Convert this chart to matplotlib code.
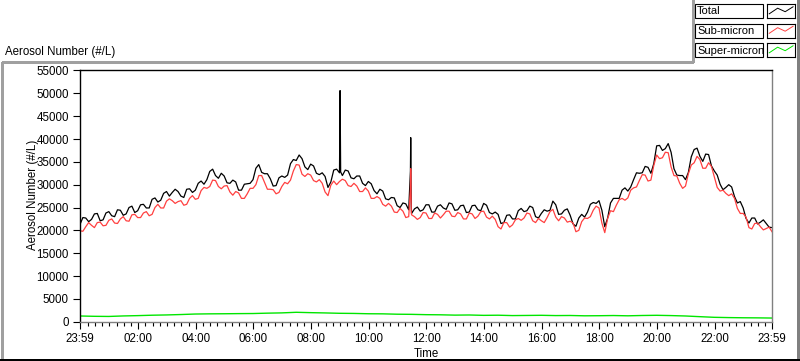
import numpy as np
import matplotlib
matplotlib.use("Agg")
import matplotlib.pyplot as plt
from matplotlib.lines import Line2D
from matplotlib.patches import Rectangle

# hours after 23:59, total / sub-micron read every 0.1 h
step_hours = 0.1
total = [21300, 22800, 22700, 21900, 22400, 23600, 23700, 22100, 22300, 23800,
         24100, 23200, 23000, 24500, 24400, 23300, 23600, 25000, 25300, 23900,
         24300, 25600, 25700, 24900, 24900, 26800, 27100, 26200, 26600, 28100,
         28500, 27500, 28300, 29000, 28500, 27500, 27200, 29000, 29100, 28300,
         28800, 30300, 30800, 30100, 31100, 32900, 33400, 32000, 31400, 32500,
         31900, 30400, 30300, 31000, 30600, 28800, 28800, 30100, 30200, 30300,
         31100, 33600, 34400, 32700, 32400, 32400, 31300, 29700, 29800, 31500,
         31900, 31600, 32100, 34600, 35500, 35300, 36500, 35700, 33900, 33300,
         34500, 34100, 32500, 32200, 32600, 31800, 29400, 30600, 33200, 33400,
         32600, 32000, 33200, 33000, 31500, 31300, 31900, 31900, 30300, 29800,
         30700, 30200, 28700, 28000, 29000, 28600, 26900, 26700, 27200, 27100,
         25400, 25000, 26000, 25800, 24500, 23700, 24700, 25100, 24200, 24500,
         25600, 25600, 24000, 24000, 25300, 25600, 24900, 24600, 26000, 25800,
         24400, 24500, 25400, 25500, 23900, 24000, 25400, 25500, 24500, 24300,
         25900, 25500, 23900, 23600, 24000, 23500, 21500, 21700, 23300, 23400,
         22500, 22500, 24300, 24800, 24100, 24300, 25300, 25000, 23000, 22700,
         23700, 24500, 24200, 24400, 26400, 25600, 23500, 23600, 24400, 24700,
         23300, 21400, 20900, 22700, 23500, 22900, 24000, 25700, 26100, 25900,
         26500, 24400, 20800, 22700, 26000, 27000, 27000, 27000, 28800, 29300,
         28600, 29500, 31100, 32600, 32500, 32600, 34000, 33800, 32500, 34600,
         38500, 38600, 37500, 37900, 39000, 37100, 33500, 32100, 32000, 32000,
         31100, 32700, 36100, 37700, 38000, 36200, 35100, 36700, 36600, 34100,
         33000, 32100, 30100, 28900, 29400, 30000, 29500, 27400, 26000, 26300,
         24900, 22600, 21600, 22700, 22700, 21400, 21800, 22300, 21500, 20700,
         20600]
sub_micron = [19900, 19800, 20800, 21700, 21100, 20600, 21700, 21800, 21000, 21100,
              22200, 22500, 21600, 21500, 22500, 23000, 22100, 22000, 23400, 23500,
              22800, 22800, 23800, 24100, 23200, 23500, 25000, 25700, 24900, 24900,
              26400, 26900, 26500, 25900, 26300, 26500, 25500, 25700, 27000, 27600,
              26800, 27000, 28700, 29400, 29200, 29600, 31000, 30900, 29600, 29100,
              29700, 29800, 28400, 27700, 28500, 28200, 27000, 27000, 28000, 29200,
              29200, 30000, 32000, 32000, 30500, 29000, 29000, 28900, 28000, 28300,
              29600, 30500, 30200, 31000, 33000, 34400, 34300, 32300, 31800, 32400,
              32100, 30900, 30600, 31100, 30300, 28400, 27600, 29900, 30800, 30000,
              30700, 31200, 30900, 29800, 29600, 30300, 29700, 28500, 28500, 29300,
              28600, 27000, 27000, 27400, 27000, 25700, 25300, 25900, 25300, 24000,
              23900, 24800, 24200, 22800, 23000, 23400, 23000, 22400, 22800, 23900,
              23800, 22600, 22600, 23800, 23500, 22700, 23400, 24200, 24200, 23100,
              23000, 23900, 23600, 22500, 22500, 23800, 23600, 22600, 23100, 24100,
              24200, 22900, 22500, 23100, 22400, 20800, 20300, 21700, 21700, 20700,
              21200, 22300, 22600, 22200, 22700, 23800, 23600, 22100, 21700, 22600,
              22100, 21700, 22800, 24100, 24600, 22900, 22100, 23000, 22700, 21800,
              22000, 21600, 19700, 20000, 21900, 22700, 22600, 23000, 24400, 25300,
              24900, 21600, 19500, 22600, 24300, 24100, 25500, 26700, 27000, 26600,
              27100, 28800, 29300, 29500, 30900, 32200, 32100, 30800, 31000, 34200,
              36500, 35700, 35900, 37100, 37000, 33900, 32000, 31900, 30300, 29200,
              29700, 32400, 34300, 34800, 36200, 35500, 33600, 33600, 34800, 34000,
              31700, 29400, 28600, 28800, 28100, 27600, 28000, 27000, 24800, 23700,
              23700, 22900, 20600, 20300, 21500, 21600, 20800, 20100, 20400, 20700,
              19700]

# super-micron read every 0.5 h
super_step_hours = 0.5
super_micron = [1250, 1180, 1150, 1260, 1330, 1420, 1480, 1570, 1680, 1720,
                1740, 1770, 1790, 1870, 1930, 2060, 1980, 1920, 1840, 1810,
                1740, 1720, 1640, 1610, 1540, 1510, 1440, 1470, 1390, 1420,
                1340, 1370, 1400, 1340, 1360, 1290, 1310, 1350, 1290, 1360,
                1400, 1340, 1250, 1100, 960, 900, 860, 840, 800]

# short bursts between grid points
total_spike_hours = [9.01, 9.02, 9.04, 11.46, 11.47, 11.49]
total_spike_values = [40500, 50600, 32800, 33000, 40300, 25200]
sub_spike_hours = [11.46, 11.47, 11.49]
sub_spike_values = [29000, 33500, 23800]

series_names = ["Total", "Sub-micron", "Super-micron"]
series_colors = ["#000000", "#ff4040", "#00e600"]
time_labels = ["23:59", "02:00", "04:00", "06:00", "08:00", "10:00", "12:00",
               "14:00", "16:00", "18:00", "20:00", "22:00", "23:59"]
y_ticks = [0, 5000, 10000, 15000, 20000, 25000, 30000, 35000, 40000, 45000,
           50000, 55000]

W, H = 800, 361
FONT = "Liberation Sans"


def px(x, y):
    return x / W, 1 - y / H


def with_spikes(values, step, spike_hours, spike_values):
    hours = np.arange(len(values)) * step
    h = np.concatenate([hours, spike_hours])
    v = np.concatenate([values, spike_values])
    order = np.argsort(h)
    return h[order], v[order]


def fig_line(fig, xs, ys, color, lw=1.0):
    pts = [px(x, y) for x, y in zip(xs, ys)]
    fig.add_artist(Line2D([p[0] for p in pts], [p[1] for p in pts],
                          transform=fig.transFigure, color=color, lw=lw,
                          antialiased=False))


def draw_legend(fig):
    rows = [4, 23.5, 43]
    zig_x = [0.08, 0.38, 0.65, 0.93]
    zig_y = [0.3, 0.7, 0.45, 0.8]
    for name, color, top in zip(series_names, series_colors, rows):
        x0, y0 = px(695, top + 14)
        fig.add_artist(Rectangle((x0, y0), 68 / W, 14 / H, transform=fig.transFigure,
                                 facecolor="white", edgecolor="black", lw=0.8))
        fig.text(697 / W, 1 - (top + 7.5) / H, name, fontsize=8.0, family=FONT,
                 va="center", ha="left")
        sx, sy = px(767, top + 14)
        sax = fig.add_axes([sx, sy, 28 / W, 14 / H])
        sax.set_xlim(0, 1)
        sax.set_ylim(0, 1)
        sax.set_xticks([])
        sax.set_yticks([])
        for s in sax.spines.values():
            s.set_linewidth(0.8)
        sax.plot(zig_x, zig_y, color=color, lw=0.7)


def main():
    fig = plt.figure(figsize=(W / 100, H / 100), dpi=100)
    fig.patch.set_facecolor("white")

    left, bottom = px(80, 321.7)
    right, top = px(772, 70.5)
    ax = fig.add_axes([left, bottom, right - left, top - bottom])

    th, tv = with_spikes(total, step_hours, total_spike_hours, total_spike_values)
    sh, sv = with_spikes(sub_micron, step_hours, sub_spike_hours, sub_spike_values)
    gh = np.arange(len(super_micron)) * super_step_hours

    ax.plot(th, tv, color=series_colors[0], lw=0.9)
    ax.plot(sh, sv, color=series_colors[1], lw=0.9)
    ax.plot(gh, super_micron, color=series_colors[2], lw=1.0)

    ax.set_xlim(0, 24)
    ax.set_ylim(0, 55000)

    offset = 1 / 60  # 23:59 -> 00:00
    majors = [0] + [2 * k + offset for k in range(1, 12)] + [24]
    minors = [offset + 0.25 * k for k in range(96) if (k % 8) != 0]
    ax.set_xticks(majors)
    ax.set_xticklabels(time_labels)
    ax.set_xticks(minors, minor=True)
    ax.set_yticks(y_ticks)
    ax.set_yticklabels([str(v) for v in y_ticks])

    ax.tick_params(axis="y", direction="out", length=5, width=0.8, pad=3,
                   labelsize=8.3)
    ax.tick_params(axis="x", which="major", direction="out", length=5, width=0.8,
                   pad=3, labelsize=8.3)
    ax.tick_params(axis="x", which="minor", direction="out", length=3, width=0.8)
    for lab in ax.get_xticklabels() + ax.get_yticklabels():
        lab.set_family(FONT)

    ax.spines["left"].set_color("black")
    ax.spines["top"].set_color("black")
    ax.spines["right"].set_color("#808080")
    ax.spines["bottom"].set_color("#808080")
    for s in ax.spines.values():
        s.set_linewidth(1.0)

    ax.set_xlabel("Time", fontsize=8.3, family=FONT, labelpad=2)
    fig.text(33 / W, 1 - 195 / H, "Aerosol Number (#/L)", rotation=90,
             fontsize=8.3, family=FONT, ha="center", va="center")
    fig.text(5 / W, 1 - 52 / H, "Aerosol Number (#/L)", fontsize=8.3,
             family=FONT, ha="left", va="center")

    # panel frame
    fig_line(fig, [1.5, 1.5, 692.5, 692.5], [359.5, 61.5, 61.5, 0], "#a0a0a0")
    fig_line(fig, [797.5, 797.5], [0, 359.5], "#808080")
    fig_line(fig, [0, 799], [359.5, 359.5], "black")

    draw_legend(fig)

    fig.savefig("out.png", dpi=100)


if __name__ == "__main__":
    main()
